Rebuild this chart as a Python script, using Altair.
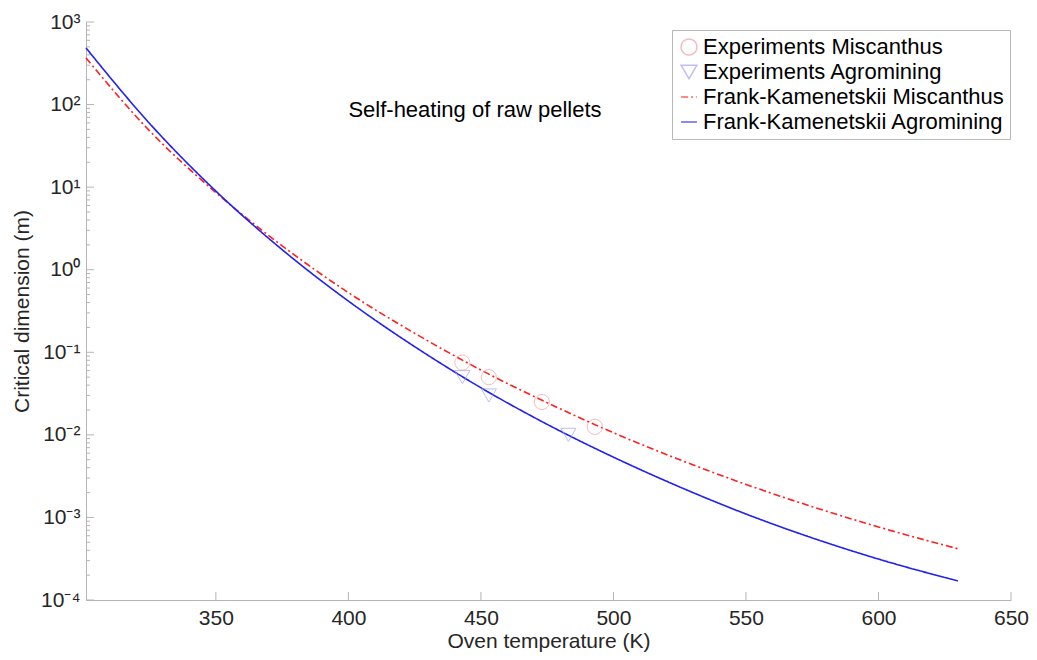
import altair as alt
import pandas as pd

# ---- data ----
series_names = [
    "Experiments Miscanthus",
    "Experiments Agromining",
    "Frank-Kamenetskii Miscanthus",
    "Frank-Kamenetskii Agromining",
]

T_curve = [301, 325, 350, 375, 400, 425, 450, 475, 500, 525, 550, 575, 600, 630]
fk_miscanthus = [367, 48, 8.6, 1.95, 0.528, 0.170, 0.061, 0.0245, 0.0106, 0.0050,
                 0.00251, 0.00135, 7.67e-4, 4.17e-4]
fk_agromining = [485, 59, 8.95, 1.75, 0.417, 0.117, 0.0372, 0.0134, 0.00537, 0.00234,
                 0.0011, 5.65e-4, 3.13e-4, 1.7e-4]

T_exp_misc = [443, 453, 473, 493]
exp_misc = [0.075, 0.05, 0.025, 0.0125]
T_exp_agro = [443, 453, 483]
exp_agro = [0.05, 0.03, 0.01]

x_tick_values = [350, 400, 450, 500, 550, 600, 650]
y_decades = [1e-4, 1e-3, 1e-2, 1e-1, 1e0, 1e1, 1e2, 1e3]
y_minor = [m * d for d in y_decades[:-1] for m in range(2, 10)]

annotation = "Self-heating of raw pellets"

# ---- tables ----
curve_df = pd.DataFrame({
    "T": T_curve * 2,
    "d": fk_miscanthus + fk_agromining,
    "series": [series_names[2]] * len(T_curve) + [series_names[3]] * len(T_curve),
})
pts_df = pd.DataFrame({
    "T": T_exp_misc + T_exp_agro,
    "d": exp_misc + exp_agro,
    "series": [series_names[0]] * len(T_exp_misc) + [series_names[1]] * len(T_exp_agro),
})

W, H = 925, 578
FONT = "Liberation Sans"
FS = 21
FS_BIG = 22

xscale = alt.Scale(domain=[301, 650], nice=False, zero=False)
yscale = alt.Scale(type="log", domain=[1e-4, 1e3], nice=False)

sup_expr = ("'10' + {'3':'³','2':'²','1':'¹','0':'⁰','-1':'⁻¹','-2':'⁻²',"
            "'-3':'⁻³','-4':'⁻⁴'}['' + round(log(datum.value)/LN10)]")

x_enc = alt.X("T:Q", scale=xscale, axis=alt.Axis(
    values=x_tick_values, ticks=False, grid=False, title="Oven temperature (K)",
    labelPadding=7, titlePadding=2, labelFlush=False))
y_enc = alt.Y("d:Q", scale=yscale, axis=alt.Axis(
    values=y_decades, ticks=False, grid=False, title="Critical dimension (m)",
    labelExpr=sup_expr, labelPadding=6, titlePadding=8, labelFlush=False))

color_scale = alt.Scale(domain=series_names,
                        range=["#f3a0a6", "#a4a4ee", "#ff2020", "#2020f0"])
shape_scale = alt.Scale(domain=series_names,
                        range=["circle", "triangle-down", "stroke", "stroke"])
dash_scale = alt.Scale(domain=series_names,
                       range=[[1, 0], [1, 0], [7, 3, 2, 3], [1, 0]])

leg = alt.Legend(title=None, orient="none", legendX=586, legendY=8,
                 fillColor="white", strokeColor="#b8b8b8", padding=6,
                 labelFontSize=FS_BIG, labelFont=FONT, labelColor="#000000",
                 symbolSize=250, symbolStrokeWidth=1.5, rowPadding=3,
                 labelOffset=3, labelLimit=400)

lines = alt.Chart(curve_df).mark_line(strokeWidth=1.6, interpolate="monotone").encode(
    x=x_enc, y=y_enc,
    color=alt.Color("series:N", scale=color_scale, legend=leg),
    strokeDash=alt.StrokeDash("series:N", scale=dash_scale, legend=leg),
    detail="series:N",
)

points = alt.Chart(pts_df).mark_point(filled=False, size=230, strokeWidth=1).encode(
    x="T:Q", y="d:Q",
    color=alt.Color("series:N", scale=color_scale, legend=leg),
    shape=alt.Shape("series:N", scale=shape_scale, legend=leg),
)

text = alt.Chart(pd.DataFrame({"T": [400], "d": [86], "label": [annotation]})).mark_text(
    align="left", baseline="middle", fontSize=FS_BIG, font=FONT, color="#000000"
).encode(x="T:Q", y="d:Q", text="label:N")

xticks = alt.Chart(pd.DataFrame({"T": x_tick_values})).mark_rule(
    color="#b5b5b5", strokeWidth=1).encode(x="T:Q", y=alt.value(H), y2=alt.value(H - 8))
yticks_major = alt.Chart(pd.DataFrame({"d": y_decades})).mark_rule(
    color="#b5b5b5", strokeWidth=1).encode(y="d:Q", x=alt.value(0), x2=alt.value(8))
yticks_minor = alt.Chart(pd.DataFrame({"d": y_minor})).mark_rule(
    color="#b5b5b5", strokeWidth=1).encode(y="d:Q", x=alt.value(0), x2=alt.value(4))

chart = alt.layer(xticks, yticks_major, yticks_minor, lines, points, text).properties(
    width=W, height=H,
    autosize=alt.AutoSizeParams(type="none"),
    padding={"left": 78, "top": 14, "right": 18, "bottom": 52},
).configure_view(stroke=None).configure_axis(
    domainColor="#b5b5b5", domainWidth=1,
    labelFont=FONT, labelFontSize=FS, labelColor="#262626",
    titleFont=FONT, titleFontSize=FS, titleColor="#262626", titleFontWeight="normal",
)

chart.save("out.html", embed_options={"renderer": "svg", "actions": False})
